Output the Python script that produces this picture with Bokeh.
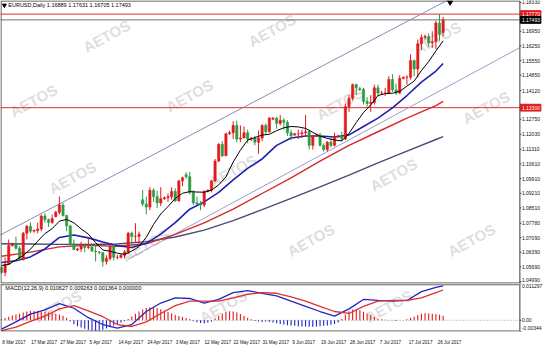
from bokeh.plotting import figure
from bokeh.layouts import column
from bokeh.models import Range1d, FixedTicker, ColumnDataSource
from bokeh.core.properties import value
from bokeh.embed import file_html
from bokeh.resources import INLINE

# ---------------- data ----------------
dates = ["2017-03-08","2017-03-09","2017-03-10","2017-03-12","2017-03-13","2017-03-14","2017-03-15","2017-03-16","2017-03-17",
"2017-03-19","2017-03-20","2017-03-21","2017-03-22","2017-03-23","2017-03-24","2017-03-26","2017-03-27","2017-03-28","2017-03-29",
"2017-03-30","2017-03-31","2017-04-02","2017-04-03","2017-04-04","2017-04-05","2017-04-06","2017-04-07","2017-04-09","2017-04-10",
"2017-04-11","2017-04-12","2017-04-13","2017-04-14","2017-04-16","2017-04-17","2017-04-18","2017-04-19","2017-04-20","2017-04-21",
"2017-04-23","2017-04-24","2017-04-25","2017-04-26","2017-04-27","2017-04-28","2017-04-30","2017-05-01","2017-05-02","2017-05-03",
"2017-05-04","2017-05-05","2017-05-07","2017-05-08","2017-05-09","2017-05-10","2017-05-11","2017-05-12","2017-05-14","2017-05-15",
"2017-05-16","2017-05-17","2017-05-18","2017-05-19","2017-05-21","2017-05-22","2017-05-23","2017-05-24","2017-05-25","2017-05-26",
"2017-05-28","2017-05-29","2017-05-30","2017-05-31","2017-06-01","2017-06-02","2017-06-04","2017-06-05","2017-06-06","2017-06-07",
"2017-06-08","2017-06-09","2017-06-11","2017-06-12","2017-06-13","2017-06-14","2017-06-15","2017-06-16","2017-06-18","2017-06-19",
"2017-06-20","2017-06-21","2017-06-22","2017-06-23","2017-06-25","2017-06-26","2017-06-27","2017-06-28","2017-06-29","2017-06-30",
"2017-07-02","2017-07-03","2017-07-04","2017-07-05","2017-07-06","2017-07-07","2017-07-09","2017-07-10","2017-07-11","2017-07-12",
"2017-07-13","2017-07-14","2017-07-16","2017-07-17","2017-07-18","2017-07-19","2017-07-20","2017-07-21","2017-07-23","2017-07-24",
"2017-07-25","2017-07-26","2017-07-27","2017-07-28"]

opens = [1.0566,1.0543,1.0582,1.0670,1.0680,1.0658,1.0604,1.0730,1.0763,
1.0740,1.0743,1.0750,1.0812,1.0795,1.0782,1.0810,1.0830,1.0865,1.0815,
1.0765,1.0680,1.0650,1.0655,1.0668,1.0662,1.0664,1.0645,1.0640,1.0638,
1.0595,1.0610,1.0665,1.0615,1.0615,1.0625,1.0640,1.0730,1.0715,1.0715,
1.0890,1.0870,1.0855,1.0935,1.0905,1.0875,1.0895,1.0900,1.0905,1.0930,
1.0885,1.0980,1.1010,1.1000,1.0925,1.0875,1.0870,1.0865,1.0930,1.0935,
1.0980,1.1075,1.1155,1.1100,1.1205,1.1210,1.1245,1.1180,1.1185,1.1210,
1.1180,1.1185,1.1165,1.1185,1.1245,1.1215,1.1275,1.1280,1.1255,1.1270,
1.1260,1.1210,1.1200,1.1205,1.1205,1.1210,1.1215,1.1150,1.1195,1.1200,
1.1150,1.1130,1.1165,1.1150,1.1190,1.1195,1.1180,1.1335,1.1375,1.1440,
1.1420,1.1418,1.1360,1.1350,1.1355,1.1425,1.1400,1.1400,1.1400,1.1465,
1.1415,1.1400,1.1470,1.1475,1.1475,1.1555,1.1515,1.1635,1.1665,1.1670,
1.1640,1.1645,1.1735,1.16889]
highs = [1.0574,1.0615,1.0700,1.0685,1.0714,1.0669,1.0736,1.0769,1.0782,
1.0748,1.0780,1.0820,1.0825,1.0800,1.0819,1.0838,1.0906,1.0875,1.0818,
1.0771,1.0700,1.0660,1.0690,1.0682,1.0710,1.0681,1.0679,1.0645,1.0640,
1.0625,1.0675,1.0678,1.0627,1.0630,1.0650,1.0737,1.0738,1.0778,1.0738,
1.0937,1.0905,1.0950,1.0945,1.0933,1.0950,1.0905,1.0920,1.0950,1.0945,
1.0985,1.1000,1.1022,1.1023,1.0935,1.0905,1.0885,1.0935,1.0940,1.0985,
1.1085,1.1160,1.1170,1.1210,1.1220,1.1265,1.1268,1.1245,1.1240,1.1225,
1.1190,1.1195,1.1220,1.1250,1.1255,1.1285,1.1285,1.1285,1.1295,1.1280,
1.1270,1.1225,1.1210,1.1225,1.1225,1.1295,1.1225,1.1200,1.1205,1.1210,
1.1160,1.1170,1.1185,1.1210,1.1200,1.1215,1.1350,1.1390,1.1445,1.1445,
1.1430,1.1425,1.1380,1.1390,1.1440,1.1440,1.1410,1.1425,1.1480,1.1490,
1.1445,1.1485,1.1480,1.1485,1.1585,1.1560,1.1655,1.1680,1.1680,1.1685,
1.1695,1.1745,1.1777,1.17631]
lows = [1.0536,1.0525,1.0580,1.0668,1.0652,1.0598,1.0600,1.0701,1.0730,
1.0733,1.0730,1.0740,1.0780,1.0760,1.0775,1.0805,1.0820,1.0810,1.0740,
1.0672,1.0650,1.0645,1.0640,1.0640,1.0654,1.0640,1.0595,1.0630,1.0570,
1.0580,1.0600,1.0600,1.0605,1.0610,1.0610,1.0630,1.0680,1.0685,1.0680,
1.0860,1.0820,1.0840,1.0880,1.0850,1.0860,1.0890,1.0880,1.0890,1.0880,
1.0880,1.0955,1.0990,1.0915,1.0865,1.0865,1.0840,1.0855,1.0925,1.0925,
1.0975,1.1070,1.1095,1.1100,1.1200,1.1180,1.1165,1.1165,1.1185,1.1160,
1.1170,1.1150,1.1110,1.1170,1.1205,1.1210,1.1270,1.1230,1.1245,1.1225,
1.1195,1.1175,1.1195,1.1180,1.1185,1.1190,1.1130,1.1130,1.1190,1.1145,
1.1120,1.1120,1.1140,1.1145,1.1185,1.1170,1.1175,1.1310,1.1365,1.1390,
1.1410,1.1345,1.1335,1.1310,1.1345,1.1385,1.1390,1.1385,1.1395,1.1405,
1.1390,1.1395,1.1465,1.1440,1.1465,1.1480,1.1475,1.1605,1.1655,1.1620,
1.1615,1.1610,1.1650,1.16705]
closes = [1.0543,1.0582,1.0672,1.0680,1.0658,1.0604,1.0730,1.0763,1.0740,
1.0743,1.0750,1.0812,1.0795,1.0782,1.0800,1.0830,1.0865,1.0815,1.0765,
1.0680,1.0652,1.0655,1.0668,1.0662,1.0664,1.0645,1.0642,1.0638,1.0595,
1.0610,1.0665,1.0615,1.0615,1.0625,1.0640,1.0730,1.0715,1.0715,1.0725,
1.0870,1.0855,1.0935,1.0905,1.0875,1.0895,1.0900,1.0905,1.0930,1.0885,
1.0980,1.0995,1.1000,1.0925,1.0875,1.0870,1.0865,1.0930,1.0935,1.0980,
1.1075,1.1155,1.1100,1.1205,1.1210,1.1245,1.1180,1.1185,1.1210,1.1180,
1.1185,1.1165,1.1185,1.1245,1.1215,1.1280,1.1280,1.1255,1.1270,1.1260,
1.1210,1.1195,1.1205,1.1205,1.1210,1.1215,1.1150,1.1195,1.1200,1.1150,
1.1130,1.1165,1.1150,1.1190,1.1195,1.1180,1.1335,1.1375,1.1440,1.1425,
1.1418,1.1360,1.1350,1.1355,1.1425,1.1400,1.1400,1.1400,1.1465,1.1415,
1.1400,1.1470,1.1475,1.1475,1.1555,1.1515,1.1635,1.1665,1.1670,1.1640,
1.1645,1.1735,1.1680,1.17493]

# moving averages (sampled bar index -> price)
ma_black_idx = list(range(0, 123, 2))
ma_black = [1.0576,1.0581,1.0603,1.0624,1.0654,1.0692,1.0728,1.0752,1.0788,1.0796,1.0780,1.0751,1.0726,1.0685,
1.0650,1.0644,1.0635,1.0629,1.0645,1.0666,1.0711,1.0772,1.0822,1.0858,1.0896,1.0921,1.0929,1.0927,1.0926,1.0936,
1.0961,1.0999,1.1070,1.1127,1.1175,1.1187,1.1199,1.1203,1.1220,1.1234,1.1240,1.1238,1.1231,1.1212,1.1194,1.1183,
1.1176,1.1171,1.1207,1.1259,1.1307,1.1343,1.1388,1.1397,1.1399,1.1408,1.1433,1.1457,1.1507,1.1550,1.1601,1.1649]
ma_blue_idx = [0,4,8,12,16,20,24,28,32,36,40,44,48,52,56,60,64,68,72,76,80,84,88,92,96,100,104,108,112,116,120,122]
ma_blue = [1.0590,1.0599,1.0617,1.0655,1.0710,1.0722,1.0708,1.0688,1.0670,1.0662,1.0682,1.0726,1.0781,1.0845,1.0880,
1.0925,1.0985,1.1040,1.1085,1.1150,1.1185,1.1195,1.1195,1.1190,1.1200,1.1240,1.1280,1.1329,1.1388,1.1452,1.1505,1.1541]
ma_red_idx = [0,8,16,24,32,40,48,56,64,72,80,88,96,104,112,120,122]
ma_red = [1.0620,1.0640,1.0665,1.0672,1.0668,1.0680,1.0725,1.0780,1.0845,1.0920,1.0995,1.1075,1.1150,1.1215,1.1280,1.1340,1.1360]
ma_slate_idx = [0,8,16,24,32,40,48,56,64,72,80,88,96,104,112,120,122]
ma_slate = [1.0680,1.0679,1.0677,1.0676,1.0679,1.0690,1.0712,1.0745,1.0790,1.0843,1.0897,1.0952,1.1008,1.1066,1.1122,1.1178,1.1192]

# drawn trend channel (bar index, price)
chan_up_idx = [-0.5, 124.5]
chan_up_price = [1.0720, 1.1855]
chan_lo_idx = [34.9, 143.2]
chan_lo_price = [1.0605, 1.1617]

# horizontal levels and their axis tags
level_vals = [1.1777, 1.17493, 1.1330]
level_tags = ["1.17770", "1.17493", "1.13300"]

# price axis ticks
price_ticks = [1.18330,1.16950,1.16250,1.15550,1.14850,1.14120,1.12750,1.12030,1.11310,1.10610,
               1.09910,1.09210,1.08510,1.07780,1.07090,1.06390,1.05690,1.04990]
price_tick_labels = ["1.18330","1.16950","1.16250","1.15550","1.14850","1.14120","1.12750","1.12030","1.11310","1.10610",
                     "1.09910","1.09210","1.08510","1.07780","1.07090","1.06390","1.05690","1.04990"]

# MACD (12,26,9)
macd_idx = [0,4,8,12,16,20,24,28,32,36,40,44,48,52,56,60,64,68,72,76,80,84,88,92,96,100,104,108,112,116,120,122]
macd_main = [-0.0027,-0.0005,0.0019,0.0032,0.0051,0.0037,0.0008,-0.0013,-0.0024,-0.0013,0.0027,0.0053,0.0069,0.0067,
             0.0053,0.0064,0.0085,0.0091,0.0083,0.0075,0.0059,0.0043,0.0027,0.0013,0.0035,0.0064,0.0061,0.0059,0.0061,
             0.0088,0.0101,0.0106]
macd_signal = [-0.0032,-0.0021,-0.0003,0.0013,0.0035,0.0045,0.0029,0.0011,-0.0013,-0.0019,-0.0005,0.0021,0.0045,0.0059,
               0.0059,0.0059,0.0069,0.0080,0.0085,0.0083,0.0072,0.0059,0.0043,0.0027,0.0021,0.0043,0.0059,0.0061,0.0061,
               0.0069,0.0085,0.0093]
macd_hist = [0.0004,0.0007,0.0011,0.0015,0.0018,0.0020,0.0024,0.0027,0.0029,0.0029,0.0028,0.0027,0.0026,0.0024,0.0022,0.0020,0.0018,0.0014,0.0008,
             -0.0004,-0.0012,-0.0018,-0.0022,-0.0026,-0.0029,-0.0031,-0.0032,-0.0031,-0.0029,-0.0025,-0.0021,-0.0016,-0.0011,-0.0007,-0.0003,
             0.0004,0.0012,0.0020,0.0027,0.0033,0.0038,0.0040,0.0040,0.0038,0.0034,0.0030,0.0026,0.0022,0.0017,0.0013,0.0010,0.0007,0.0004,
             -0.0003,-0.0006,-0.0008,-0.0009,-0.0007,-0.0004,
             0.0006,0.0014,0.0021,0.0026,0.0028,0.0027,0.0024,0.0019,0.0013,0.0008,
             0.0003,-0.0002,-0.0004,-0.0005,-0.0004,-0.0005,-0.0007,
             -0.0009,-0.0011,-0.0013,-0.0015,-0.0016,-0.0017,-0.0018,-0.0019,-0.0019,-0.0020,-0.0020,-0.0019,-0.0018,-0.0017,-0.0016,-0.0014,-0.0011,-0.0007,
             0.0004,0.0018,0.0028,0.0033,0.0034,0.0031,0.0026,0.0021,0.0016,0.0010,
             0.0005,0.0003,0.0002,0.0001,-0.0001,-0.0002,0.0000,0.0001,0.0003,
             0.0008,0.0011,0.0016,0.0020,0.0022,0.0021,0.0020,0.0019,0.0017,0.0014]
macd_ticks = [0.011297, 0.0, -0.00344]
macd_tick_labels = ["0.011297", "0.00", "-0.00344"]

date_tick_idx = [0,8,16,24,32,40,48,56,64,72,80,88,96,104,112,120]
date_tick_labels = ["8 Mar 2017","17 Mar 2017","27 Mar 2017","5 Apr 2017","14 Apr 2017","24 Apr 2017","3 May 2017",
                    "12 May 2017","22 May 2017","31 May 2017","9 Jun 2017","19 Jun 2017","28 Jun 2017","7 Jul 2017",
                    "17 Jul 2017","26 Jul 2017"]

title_text = "EURUSD,Daily  1.16889 1.17631 1.16705 1.17493"
macd_text = "MACD(12,26,9) 0.010627 0.009263 0.001364 0.000000"

n = len(dates)
assert len(opens) == len(highs) == len(lows) == len(closes) == n == len(macd_hist)

# ---------------- styling / layout ----------------
FONT = "Liberation Sans"
UP, DOWN = "#e31a1a", "#2e9a44"
BORDER = "#3c3c3c"
W = 544
XR = Range1d(-0.27, 150.0)     # whole width incl. price-scale strip
AX = 143.2                     # price scale line position (bar units)
PX = (XR.end - XR.start) / W   # one screen pixel in bar units
SCALE_FS = "5px"

def px_idx(x):      # reference pixel -> bar index (decoration placement only)
    return (x - 2) / 3.72

def px_price(y):
    return 1.1833 - (y - 3) * 0.00046

def px_macd(y):
    return (338 - y) * 0.000267

def wm(fig, pts, yconv):
    fig.text(x=[px_idx(a) for a, b in pts], y=[yconv(b) for a, b in pts], text=["AETOS"] * len(pts),
             angle=0.5, text_font=value(FONT), text_font_size="15px", text_font_style="bold",
             text_color="#cfcfcf", text_alpha=0.7, text_align="center", text_baseline="middle")

def right_scale(fig, ticks, labels, ypx, nudge=None):
    nudge = nudge or [0] * len(ticks)
    fig.segment(x0=[AX] * len(ticks), x1=[AX + 1.5 * PX] * len(ticks), y0=ticks, y1=ticks,
                line_color=BORDER, line_width=1)
    fig.text(x=[AX + 2 * PX] * len(ticks), y=[t + d * ypx for t, d in zip(ticks, nudge)], text=labels,
             text_font=value(FONT), text_font_size=SCALE_FS, text_color="#111111",
             text_align="left", text_baseline="middle")

# ---------------- main price panel ----------------
YR = Range1d(1.0490, 1.1842)
p = figure(width=W, height=283, x_range=XR, y_range=YR, x_axis_location=None, y_axis_location=None,
           toolbar_location=None, output_backend="svg",
           min_border_left=0, min_border_right=0, min_border_top=0, min_border_bottom=0)
p.grid.visible = False
p.outline_line_color = None
p.background_fill_color = "white"
p.border_fill_color = "white"
YPX = (YR.end - YR.start) / 283

wm(p, [(110, 38), (280, 32), (450, 40), (35, 105), (195, 100), (350, 108), (500, 112),
       (75, 185), (240, 178), (405, 182), (150, 255), (320, 250), (485, 250)], px_price)

for v, c in zip(level_vals, ["#e03030", "#707070", "#e03030"]):
    p.segment(x0=[XR.start], x1=[AX], y0=[v], y1=[v], line_color=c, line_width=1)

# channel
p.line(chan_up_idx, chan_up_price, line_color="#8a8ab4", line_width=1)
p.line(chan_lo_idx, chan_lo_price, line_color="#9c9cd0", line_width=1)

# moving averages
p.line(ma_slate_idx, ma_slate, line_color="#4a4a78", line_width=1.4)
p.line(ma_red_idx, ma_red, line_color="#d42a2a", line_width=1.4)
p.line(ma_blue_idx, ma_blue, line_color="#1c22b0", line_width=1.6)

# candles
idx = list(range(n))
cols = [UP if c >= o else DOWN for o, c in zip(opens, closes)]
src = ColumnDataSource(dict(x=idx, o=opens, h=highs, l=lows, c=closes,
                            top=[max(o, c) for o, c in zip(opens, closes)],
                            bot=[min(o, c) for o, c in zip(opens, closes)], col=cols))
p.segment(x0="x", y0="l", x1="x", y1="h", line_color="col", line_width=1, source=src)
p.vbar(x="x", width=0.62, top="top", bottom="bot", fill_color="col", line_color="col",
       line_width=0.6, source=src)

p.line(ma_black_idx, ma_black, line_color="#000000", line_width=1)

# frame + price scale
x0 = XR.start + 0.5 * PX
p.line([x0, AX, AX, x0, x0], [YR.end - 0.5 * YPX, YR.end - 0.5 * YPX, YR.start + 0.5 * YPX,
                              YR.start + 0.5 * YPX, YR.end - 0.5 * YPX], line_color=BORDER, line_width=1)
price_nudge = [0] * (len(price_ticks) - 1) + [1.5]
right_scale(p, price_ticks, price_tick_labels, YPX, nudge=price_nudge)

# price tags on the scale
tag_cols = ["#e01818", "#000000", "#e01818"]
p.quad(left=[AX + 0.5 * PX] * 3, right=[AX + 21 * PX] * 3, top=[v + 3.4 * YPX for v in level_vals],
       bottom=[v - 3.4 * YPX for v in level_vals], fill_color=tag_cols, line_color=tag_cols)
p.text(x=[AX + 2 * PX] * 3, y=level_vals, text=level_tags, text_font=value(FONT),
       text_font_size=SCALE_FS, text_color="white", text_align="left", text_baseline="middle")

# title / markers
p.scatter([px_idx(5)], [px_price(6)], marker="inverted_triangle", size=4, color="black")
p.text(x=[px_idx(9)], y=[px_price(6)], text=[title_text], text_font=value(FONT),
       text_font_size="5.5px", text_color="black", text_baseline="middle")
p.scatter([px_idx(463)], [px_price(3)], marker="inverted_triangle", size=5, color="black")

# ---------------- MACD panel ----------------
MR = Range1d(-0.00344, 0.0113)
m = figure(width=W, height=64, x_range=XR, y_range=MR, y_axis_location=None,
           toolbar_location=None, output_backend="svg",
           min_border_left=0, min_border_right=0, min_border_top=0, min_border_bottom=11)
m.grid.visible = False
m.outline_line_color = None
MPX = (MR.end - MR.start) / 53

mx = m.xaxis[0]
off = [(len(s) * 2.3 / 2 + 1) * PX for s in date_tick_labels]
xt = [i + o for i, o in zip(date_tick_idx, off)]
mx.ticker = FixedTicker(ticks=xt)
mx.major_label_overrides = {t: s for t, s in zip(xt, date_tick_labels)}
mx.major_label_text_font = FONT
mx.major_label_text_font_size = "4.6px"
mx.major_label_text_color = "#111111"
mx.major_tick_line_color = None
mx.minor_tick_line_color = None
mx.axis_line_color = None
mx.major_label_standoff = 2

wm(m, [(60, 322), (230, 322), (400, 322)], px_macd)

m.segment(x0=[XR.start], x1=[AX], y0=[0], y1=[0], line_color="#a0a0a0", line_width=1, line_dash="1 2")
hcol = [UP if v >= 0 else "#2020c8" for v in macd_hist]
m.segment(x0=idx, y0=[0] * n, x1=idx, y1=macd_hist, line_color=hcol, line_width=1.1)
m.line(macd_idx, macd_main, line_color="#2424c0", line_width=1.3)
m.line(macd_idx, macd_signal, line_color="#e03030", line_width=1.3)
m.text(x=[px_idx(6)], y=[MR.end - 4.5 * MPX], text=[macd_text], text_font=value(FONT),
       text_font_size="5.5px", text_color="black", text_baseline="middle")

m.line([x0, AX, AX, x0, x0], [MR.end - 0.5 * MPX, MR.end - 0.5 * MPX, MR.start + 0.5 * MPX,
                              MR.start + 0.5 * MPX, MR.end - 0.5 * MPX], line_color=BORDER, line_width=1)
m.segment(x0=[XR.start], x1=[AX], y0=[MR.end - 1.5 * MPX], y1=[MR.end - 1.5 * MPX],
          line_color="#808080", line_width=1)
right_scale(m, macd_ticks, macd_tick_labels, MPX, nudge=[-3, 0, 3.5])

layout = column(p, m, spacing=0)
open("out.html", "w").write(file_html(layout, INLINE))
